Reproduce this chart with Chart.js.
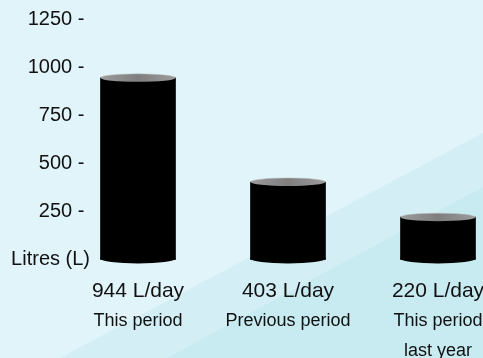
<!DOCTYPE html>
<html>
<head>
<meta charset="utf-8">
<script src="https://cdn.jsdelivr.net/npm/chart.js@4"></script>
<style>
  html, body { margin: 0; padding: 0; background: #e0f4f9; }
  #wrap { width: 483px; height: 358px; }
</style>
</head>
<body>
<div id="wrap"><canvas id="litresChart" width="483" height="358"></canvas></div>
<script>
// values
const litresPerDay = [944, 403, 220];
const periodLabels = ["This period", "Previous period", ["This period", "last year"]];
const valueLabels = litresPerDay.map((v) => v + " L/day");
const yMin = 0;
const yMax = 1250;
const yStep = 250;
const yAxisName = "Litres (L)";

const FONT = "'Liberation Sans', Arial, Helvetica, sans-serif";

// diagonal light-blue bands behind everything
const backgroundBands = {
  id: "backgroundBands",
  beforeDraw(chart) {
    const ctx = chart.ctx;
    const w = chart.width, h = chart.height;
    ctx.save();
    ctx.fillStyle = "#e0f4f9";
    ctx.fillRect(0, 0, w, h);
    ctx.fillStyle = "#d3eff5";
    ctx.beginPath();
    ctx.moveTo(60, h);
    ctx.lineTo(w, 133);
    ctx.lineTo(w, h);
    ctx.closePath();
    ctx.fill();
    ctx.fillStyle = "#c8eaf1";
    ctx.beginPath();
    ctx.moveTo(167, h);
    ctx.lineTo(w, 187);
    ctx.lineTo(w, h);
    ctx.closePath();
    ctx.fill();
    ctx.restore();
  },
};

// turn the flat bars into cylinders: ellipse on top and round bottom
const cylinders = {
  id: "cylinders",
  afterDatasetsDraw(chart) {
    const ctx = chart.ctx;
    const meta = chart.getDatasetMeta(0);
    meta.data.forEach((bar) => {
      const p = bar.getProps(["x", "y", "base", "width"], true);
      const rx = p.width / 2;
      const ry = 4;
      ctx.save();
      // bottom, overlapping the bar a little so no seam shows
      ctx.fillStyle = "#000";
      ctx.fillRect(p.x - rx, p.base - 2, rx * 2, 2);
      ctx.beginPath();
      ctx.ellipse(p.x, p.base - 1, rx, ry + 1, 0, 0, Math.PI);
      ctx.fill();
      // top
      const g = ctx.createLinearGradient(p.x - rx, 0, p.x + rx, 0);
      g.addColorStop(0, "#9c9c9c");
      g.addColorStop(0.5, "#7e7e7e");
      g.addColorStop(1, "#9c9c9c");
      ctx.fillStyle = g;
      ctx.beginPath();
      ctx.ellipse(p.x, p.y, rx, ry, 0, 0, Math.PI * 2);
      ctx.fill();
      ctx.strokeStyle = "rgba(190,190,190,0.6)";
      ctx.lineWidth = 0.8;
      ctx.beginPath();
      ctx.ellipse(p.x, p.y, rx, ry, 0, Math.PI, Math.PI * 2);
      ctx.stroke();
      ctx.restore();
    });
  },
};

// chart.js adds ticks.padding to the edge padding of a scale; drop that
function noEdgePadding(scale) {
  scale.paddingTop = 0;
  scale.paddingBottom = 0;
  scale.paddingLeft = 0;
  scale.paddingRight = 0;
}

const ctx = document.getElementById("litresChart").getContext("2d");
const litresChart = new Chart(ctx, {
  type: "bar",
  data: {
    labels: valueLabels,
    datasets: [
      {
        data: litresPerDay,
        backgroundColor: "#000",
        borderWidth: 0,
        barThickness: 75,
        clip: false,
      },
    ],
  },
  options: {
    responsive: false,
    animation: false,
    layout: { padding: { top: 19, right: 45, left: 0, bottom: 0 } },
    plugins: {
      legend: { display: false },
      tooltip: { enabled: false },
    },
    scales: {
      x: {
        type: "category",
        position: "bottom",
        weight: 0,
        offset: false,
        grid: { display: false, drawTicks: false },
        border: { display: false },
        ticks: {
          color: "#111",
          font: { family: FONT, size: 21 },
          padding: 19,
          autoSkip: false,
          maxRotation: 0,
        },
        afterFit(scale) {
          scale.height = 46;
          noEdgePadding(scale);
        },
      },
      x2: {
        type: "category",
        position: "bottom",
        weight: 1,
        labels: periodLabels,
        offset: false,
        grid: { display: false, drawTicks: false },
        border: { display: false },
        ticks: {
          color: "#111",
          font: { family: FONT, size: 18, lineHeight: 1.65 },
          padding: 1,
          autoSkip: false,
          maxRotation: 0,
        },
        afterFit(scale) {
          scale.height = 52.5;
          noEdgePadding(scale);
        },
      },
      y: {
        min: yMin,
        max: yMax,
        grid: { display: false, drawTicks: false },
        border: { display: false },
        ticks: {
          stepSize: yStep,
          color: "#111",
          font: { family: FONT, size: 20 },
          padding: 48,
          callback: (value) => (value === yMin ? yAxisName : value + " - "),
        },
        afterFit(scale) {
          scale.width = 138;
          noEdgePadding(scale);
        },
      },
    },
  },
  plugins: [backgroundBands, cylinders],
});
</script>
</body>
</html>
